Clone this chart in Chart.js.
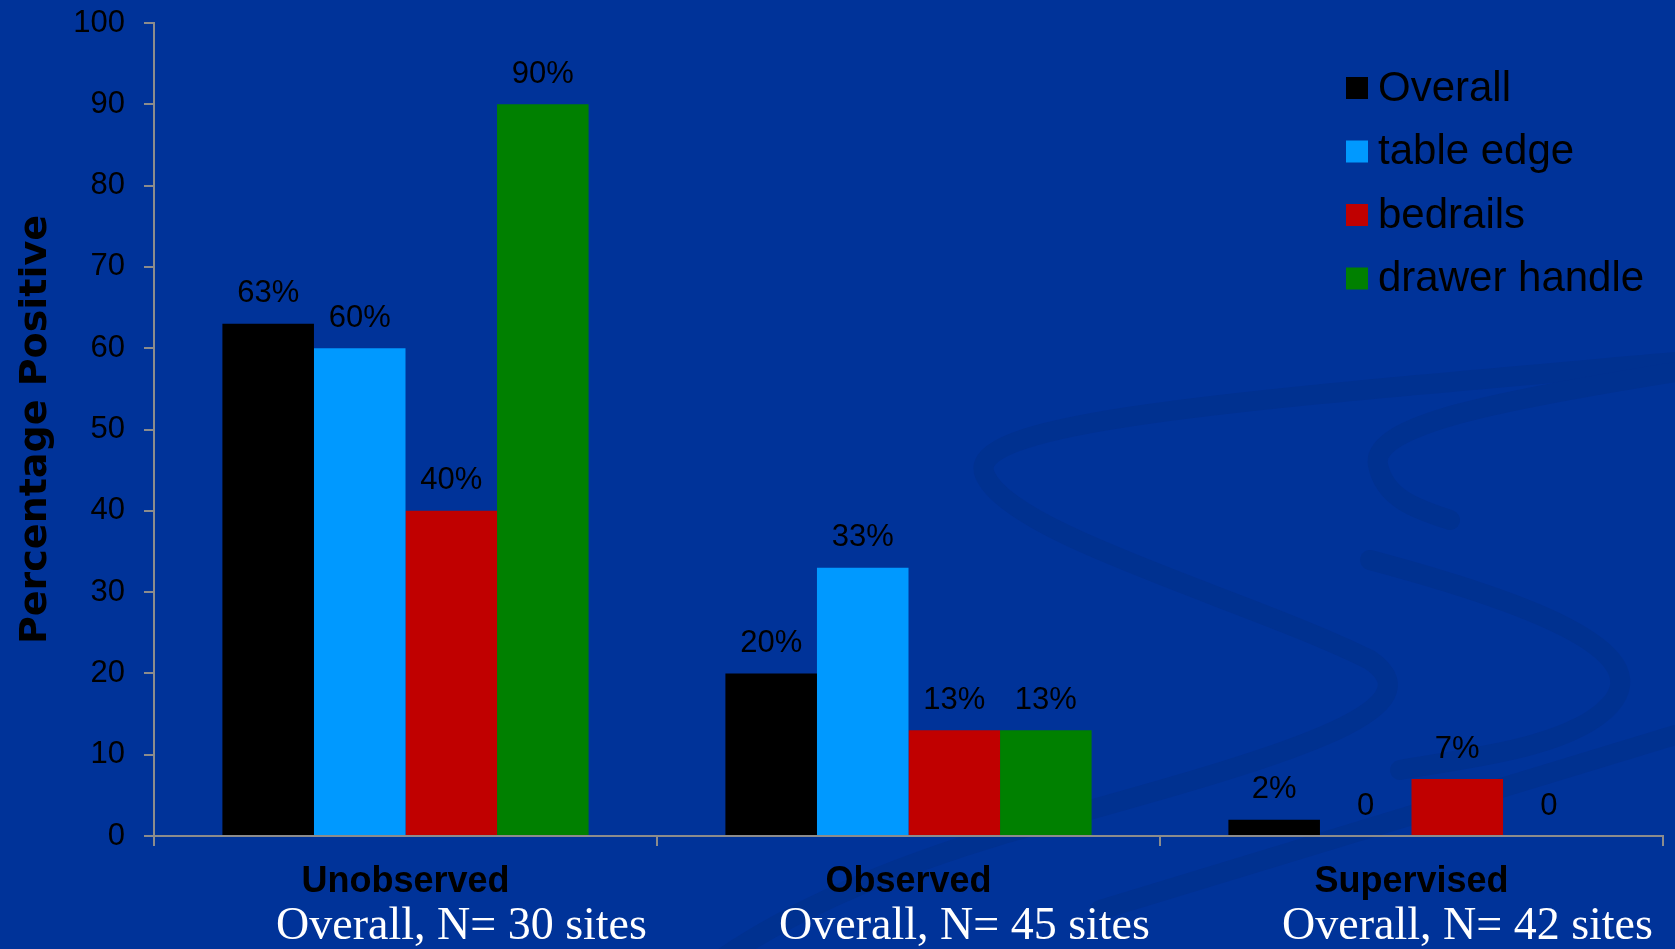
<!DOCTYPE html>
<html>
<head>
<meta charset="utf-8">
<script src="https://cdn.jsdelivr.net/npm/chart.js@4/dist/chart.umd.min.js"></script>
<style>
  html, body { margin: 0; padding: 0; background: #003399; }
  #chart { display: block; }
</style>
</head>
<body>
<canvas id="chart" width="1675" height="949"></canvas>
<script>
const categories = ['Unobserved', 'Observed', 'Supervised'];
const siteCounts = [30, 45, 42];
const seriesNames = ['Overall', 'table edge', 'bedrails', 'drawer handle'];
const overall = [63, 20, 2];
const tableEdge = [60, 33, 0];
const bedrails = [40, 13, 7];
const drawerHandle = [90, 13, 0];
const yTicks = [0, 10, 20, 30, 40, 50, 60, 70, 80, 90, 100];

const colors = ['#000000', '#0099FF', '#C00000', '#008000'];
const SANS = "'Liberation Sans', Arial, sans-serif";

// slide background with the faint swooshes
const backdrop = {
    id: 'backdrop',
    beforeDraw(chart) {
        const c = chart.ctx;
        c.save();
        c.fillStyle = '#003399';
        c.fillRect(0, 0, chart.width, chart.height);
        c.strokeStyle = '#003190';
        c.lineCap = 'round';
        c.lineWidth = 20;
        c.beginPath();
        c.moveTo(1675, 362);
        c.bezierCurveTo(1250, 400, 960, 420, 985, 475);
        c.bezierCurveTo(1010, 535, 1250, 600, 1370, 660);
        c.bezierCurveTo(1450, 715, 1250, 765, 1000, 835);
        c.bezierCurveTo(900, 865, 800, 905, 720, 960);
        c.stroke();
        c.beginPath();
        c.moveTo(1675, 372);
        c.bezierCurveTo(1500, 400, 1370, 425, 1378, 465);
        c.bezierCurveTo(1385, 500, 1420, 510, 1450, 520);
        c.stroke();
        c.beginPath();
        c.moveTo(1370, 560);
        c.bezierCurveTo(1520, 600, 1660, 650, 1610, 705);
        c.bezierCurveTo(1570, 750, 1450, 760, 1400, 770);
        c.stroke();
        c.beginPath();
        c.moveTo(1675, 735);
        c.bezierCurveTo(1500, 790, 1300, 850, 1100, 910);
        c.stroke();
        c.restore();
    }
};

// value labels over each bar
const valueLabels = {
    id: 'valueLabels',
    afterDatasetsDraw(chart) {
        const c = chart.ctx;
        c.save();
        c.font = '31px ' + SANS;
        c.fillStyle = '#000';
        c.textAlign = 'center';
        c.textBaseline = 'middle';
        chart.data.datasets.forEach((ds, i) => {
            chart.getDatasetMeta(i).data.forEach((bar, j) => {
                const v = ds.data[j];
                c.fillText(v === 0 ? '0' : v + '%', bar.x, bar.y - 30);
            });
        });
        c.restore();
    }
};

// second line under each category: site counts
const siteLine = {
    id: 'siteLine',
    afterDraw(chart) {
        const x = chart.scales.x;
        const c = chart.ctx;
        c.save();
        c.font = "46px 'Liberation Serif', 'Times New Roman', serif";
        c.fillStyle = '#fff';
        c.textAlign = 'center';
        c.textBaseline = 'alphabetic';
        categories.forEach((cat, i) => {
            c.fillText('Overall, N= ' + siteCounts[i] + ' sites', x.getPixelForValue(i) + 56, x.top + 103);
        });
        c.restore();
    }
};

// legend in the upper right of the plot
const boxLegend = {
    id: 'boxLegend',
    afterDraw(chart) {
        const c = chart.ctx;
        c.save();
        c.font = '42px ' + SANS;
        c.textBaseline = 'middle';
        c.textAlign = 'left';
        chart.data.datasets.forEach((ds, i) => {
            const cy = 88 + i * 63.5;
            c.fillStyle = ds.backgroundColor;
            c.fillRect(1346, cy - 11, 22, 22);
            c.fillStyle = '#000';
            c.fillText(ds.label, 1378, cy + 1);
        });
        c.restore();
    }
};

const ctx = document.getElementById('chart').getContext('2d');
const chart = new Chart(ctx, {
    type: 'bar',
    data: {
        labels: categories,
        datasets: [
            { label: seriesNames[0], data: overall, backgroundColor: colors[0] },
            { label: seriesNames[1], data: tableEdge, backgroundColor: colors[1] },
            { label: seriesNames[2], data: bedrails, backgroundColor: colors[2] },
            { label: seriesNames[3], data: drawerHandle, backgroundColor: colors[3] }
        ]
    },
    options: {
        responsive: false,
        animation: false,
        datasets: {
            bar: { categoryPercentage: 0.728, barPercentage: 1.0 }
        },
        layout: { padding: { top: 0, right: 12, bottom: 0, left: 0 } },
        scales: {
            x: {
                grid: { display: true, offset: true, drawOnChartArea: false, tickLength: 10, color: '#8C8C8C', lineWidth: 2 },
                border: { color: '#8C8C8C', width: 2 },
                ticks: { color: '#000', font: { family: SANS, size: 36, weight: 'bold' }, padding: 14, maxRotation: 0 },
                afterFit: (s) => { s.height = 113; }
            },
            y: {
                min: 0,
                max: 100,
                afterBuildTicks: (s) => { s.ticks = yTicks.map(v => ({ value: v })); },
                grid: { drawOnChartArea: false, tickLength: 10, color: '#8C8C8C', lineWidth: 2 },
                border: { color: '#8C8C8C', width: 2 },
                ticks: { color: '#000', font: { family: SANS, size: 31 }, padding: 19 },
                title: {
                    display: true,
                    text: 'Percentage Positive',
                    color: '#000',
                    font: { family: "'DejaVu Sans', Tahoma, sans-serif", size: 38, weight: 'bold' },
                    padding: { top: 13, bottom: 0 }
                },
                afterFit: (s) => {
                    s.width = 154;
                    s.paddingTop = 23;
                    s.paddingBottom = 0;
                }
            }
        },
        plugins: {
            legend: { display: false },
            tooltip: { enabled: false }
        }
    },
    plugins: [backdrop, valueLabels, siteLine, boxLegend]
});
</script>
</body>
</html>
